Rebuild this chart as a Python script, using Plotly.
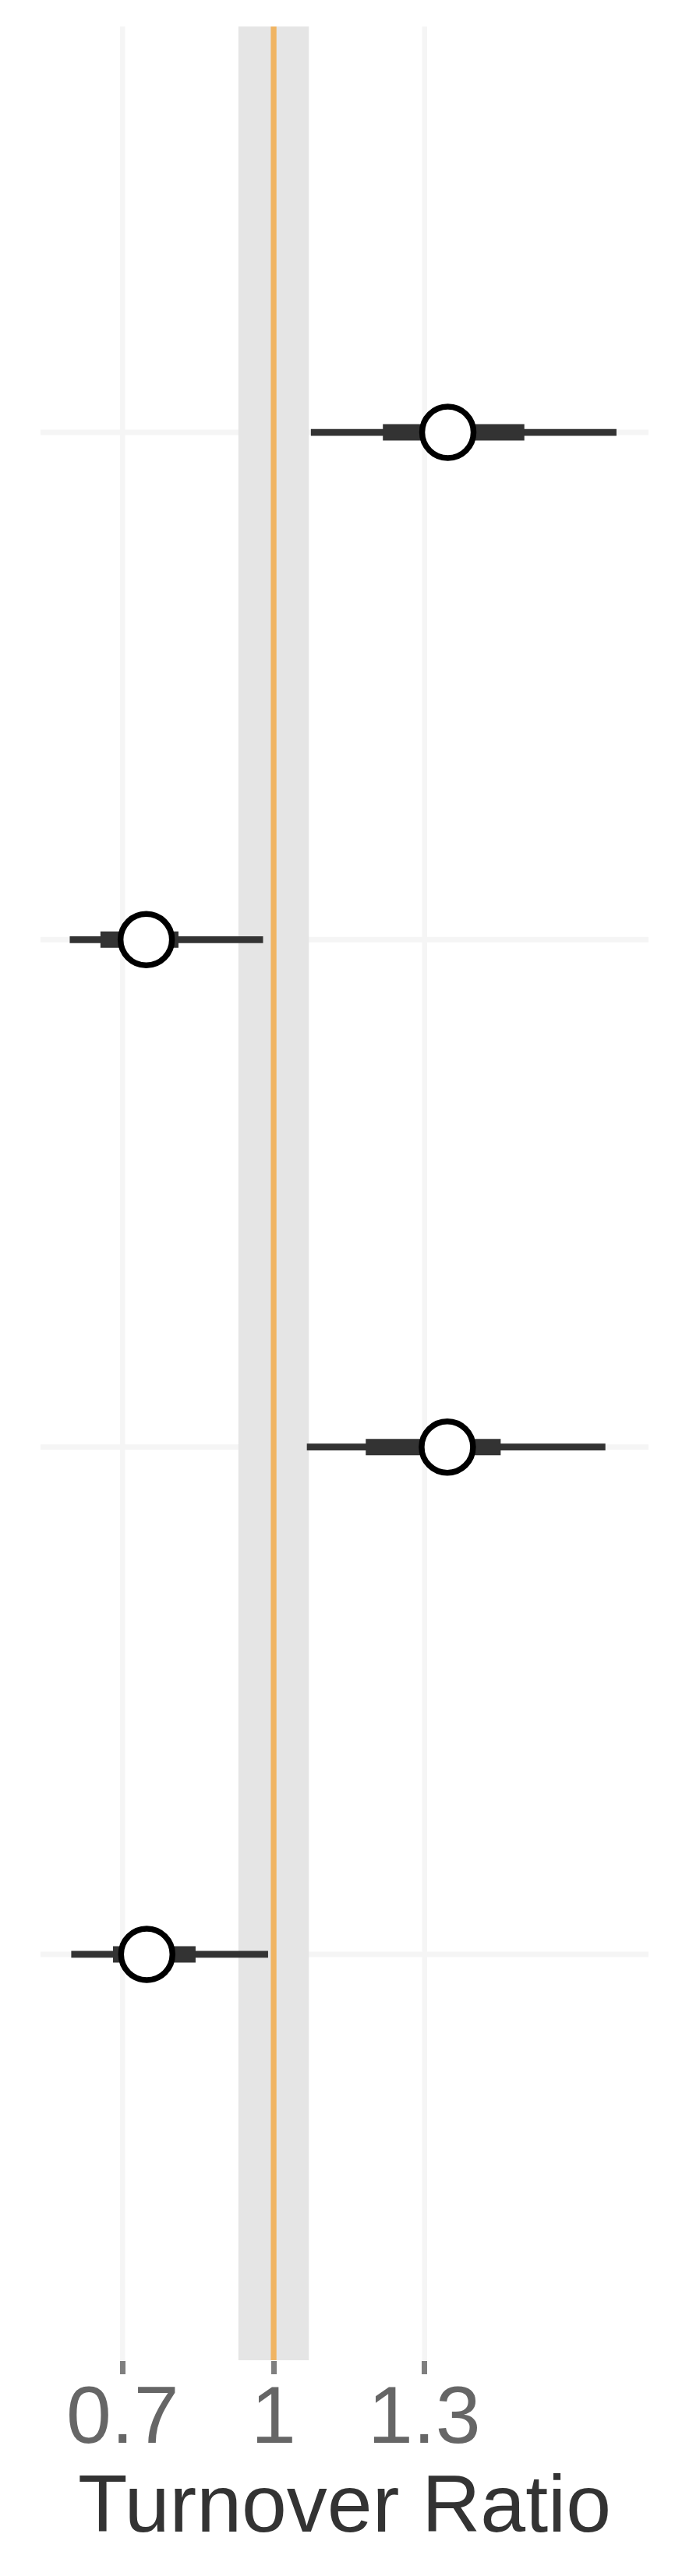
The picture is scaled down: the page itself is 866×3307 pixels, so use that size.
import plotly.graph_objects as go

# Data (top row first)
rows = [4, 3, 2, 1]
point_est = [1.346, 0.747, 1.345, 0.748]
thin_low = [1.074, 0.595, 1.066, 0.598]
thin_high = [1.681, 0.979, 1.659, 0.989]
thick_low = [1.217, 0.656, 1.183, 0.681]
thick_high = [1.498, 0.811, 1.451, 0.845]
rope_low, rope_high = 0.93, 1.07
ref_value = 1.0
tick_vals = [0.7, 1.0, 1.3]
tick_text = ["0.7", "1", "1.3"]
x_title = "Turnover Ratio"

FONT = "Arial, Liberation Sans, sans-serif"
GRID = "#f5f5f5"

fig = go.Figure()

for y, lo, hi in zip(rows, thin_low, thin_high):
    fig.add_trace(go.Scatter(x=[lo, hi], y=[y, y], mode="lines",
                             line=dict(color="#333333", width=8.7),
                             showlegend=False, hoverinfo="skip"))
for y, lo, hi in zip(rows, thick_low, thick_high):
    fig.add_trace(go.Scatter(x=[lo, hi], y=[y, y], mode="lines",
                             line=dict(color="#333333", width=21),
                             showlegend=False, hoverinfo="skip"))
fig.add_trace(go.Scatter(x=point_est, y=rows, mode="markers",
                         marker=dict(size=66, color="white",
                                     line=dict(color="black", width=7.5)),
                         showlegend=False))

# grid lines (drawn beneath the band)
for y in rows:
    fig.add_shape(type="line", xref="paper", yref="y", x0=0, x1=1, y0=y, y1=y,
                  line=dict(color=GRID, width=7), layer="below")
for xv in tick_vals:
    fig.add_shape(type="line", xref="x", yref="paper", x0=xv, x1=xv, y0=0, y1=1,
                  line=dict(color=GRID, width=6.5), layer="below")

fig.add_shape(type="rect", xref="x", yref="paper", x0=rope_low, x1=rope_high,
              y0=0, y1=1, fillcolor="#e5e5e5", line=dict(width=0), layer="below")
fig.add_shape(type="line", xref="x", yref="paper", x0=ref_value, x1=ref_value,
              y0=0, y1=1, line=dict(color="#F0B462", width=7.3), layer="below")

# tick labels and axis title
for xv, txt in zip(tick_vals, tick_text):
    fig.add_annotation(x=xv, xref="x", y=0, yref="paper", text=txt,
                       showarrow=False, xanchor="center", yanchor="top", yshift=-10,
                       font=dict(family=FONT, size=104, color="#666666"))
fig.add_annotation(x=0.5, xref="paper", y=0, yref="paper", text=x_title,
                   showarrow=False, xanchor="center", yanchor="top", yshift=-124,
                   font=dict(family=FONT, size=104, color="#333333"))

# page body has an 8px margin; figure is sized/offset to compensate
fig.update_layout(
    width=850, height=3291,
    margin=dict(l=44, r=26, t=26, b=269),
    paper_bgcolor="white", plot_bgcolor="white",
    font=dict(family=FONT),
    xaxis=dict(range=[0.537, 1.7446], tickvals=tick_vals, showticklabels=False,
               showgrid=False, zeroline=False, showline=False,
               ticks="outside", ticklen=17, tickwidth=6.7, tickcolor="#7f7f7f"),
    yaxis=dict(range=[0.2, 4.8], tickvals=rows, showticklabels=False,
               showgrid=False, zeroline=False, showline=False, ticks=""),
)

fig.write_html("out.html")
